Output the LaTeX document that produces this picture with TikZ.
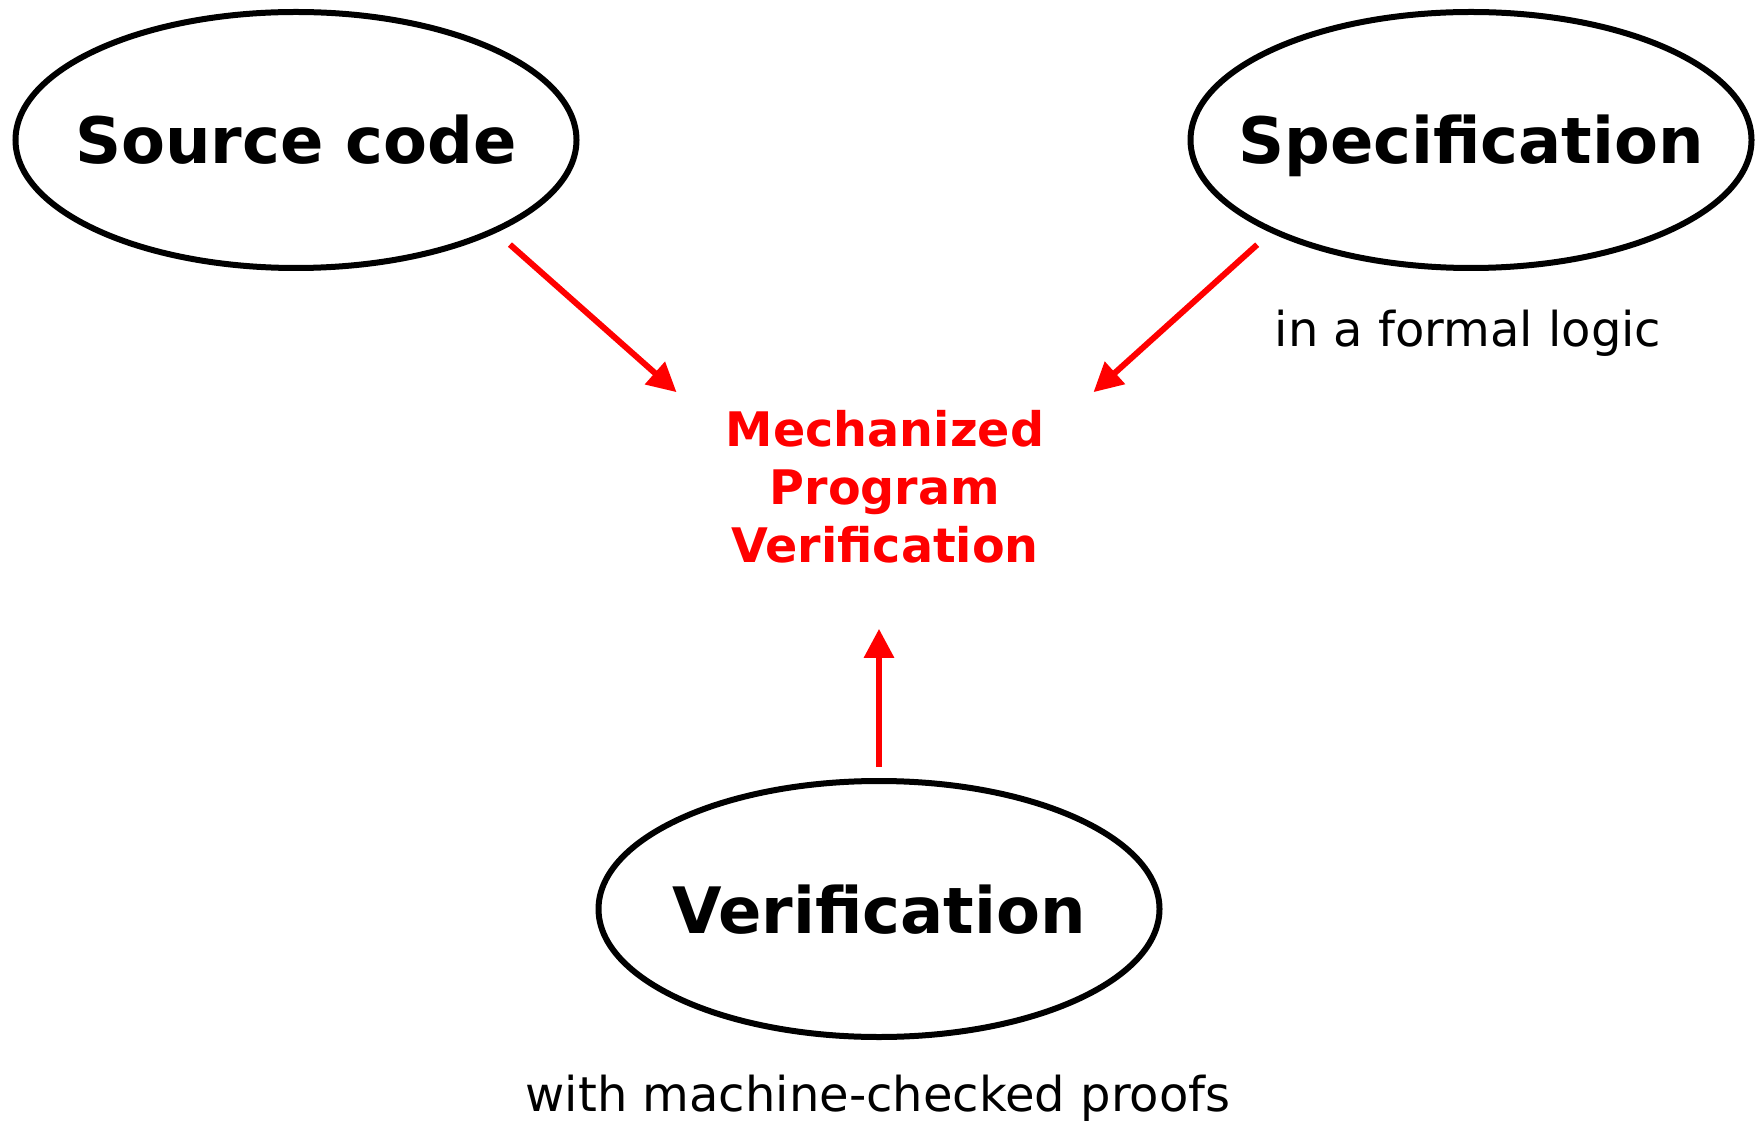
\documentclass[tikz,border=0pt]{standalone}
\usepackage{fontspec}
\setmainfont{DejaVu Sans}
\usepackage{tikz}
\usetikzlibrary{shapes.geometric, arrows.meta, positioning}
\definecolor{flowred}{RGB}{255, 0, 0}

\begin{document}
\begin{tikzpicture}[x=0.5pt, y=-0.5pt,
    part/.style={draw=black, ellipse, line width=3pt, minimum width=280.5pt,
                 minimum height=128pt, inner xsep=-30pt, inner ysep=0pt,
                 text height=24pt, text depth=0pt,
                 font=\fontsize{32}{38}\selectfont\bfseries},
    note/.style={anchor=base, font=\fontsize{24}{29}\selectfont},
    flow/.style={draw=flowred, line width=3pt,
                 -{Triangle[length=14.5pt, width=14.5pt]}}
]
    \useasboundingbox (0,0) rectangle (1755,1122);
    \node[part] (src) at (296,140) {Source code};
    \node[part] (spec) at (1471,140) {Specification};
    \node[part] (verif) at (879,909) {Verification};
    \node[align=center, text=flowred, inner xsep=24.5pt, inner ysep=9pt,
          font=\fontsize{23.8}{29}\selectfont\bfseries] (mech) at (885,487)
          {Mechanized\\Program\\Verification};
    \node[note] (logic) at (1468,347) {in a formal logic};
    \node[note] (proofs) at (878,1111) {with machine-checked proofs};
    % arrows into the red centre
    \draw[flow, shorten <=9pt] (src.south east) -- (mech.north west);
    \draw[flow, shorten <=9pt] (spec.south west) -- (mech.north east);
    \draw[flow, shorten <=5.5pt, shorten >=23.5pt] (verif.north) -- (verif.north |- mech.south);
\end{tikzpicture}
\end{document}
